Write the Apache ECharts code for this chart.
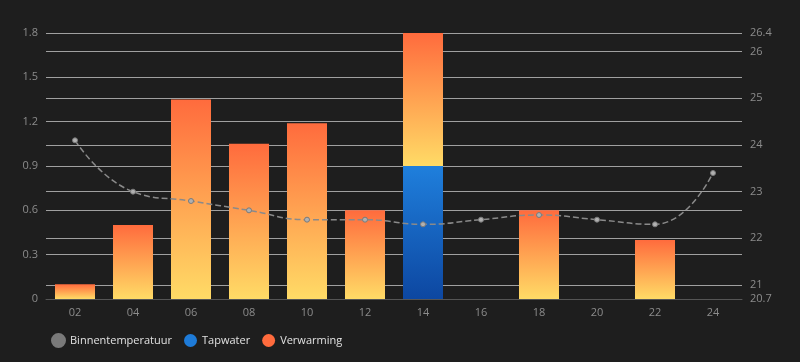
<!DOCTYPE html>
<html>
<head>
<meta charset="utf-8">
<script src="https://cdn.jsdelivr.net/npm/echarts@6/dist/echarts.min.js"></script>
<style>
html,body{margin:0;padding:0;background:#1e1e1e;}
#chart{width:800px;height:362px;}
</style>
</head>
<body>
<div id="chart"></div>
<script>
const categories = ['02','04','06','08','10','12','14','16','18','20','22','24'];
const binnentemperatuur = [24.1, 23.0, 22.8, 22.6, 22.4, 22.4, 22.3, 22.4, 22.5, 22.4, 22.3, 23.4];
const tapwater = [0, 0, 0, 0, 0, 0, 0.9, 0, 0, 0, 0, 0];
const verwarming = [0.1, 0.5, 1.35, 1.05, 1.19, 0.6, 0.9, 0, 0.6, 0, 0.4, 0];
const tempTicks = [20.7, 21, 22, 23, 24, 25, 26, 26.4];

const chart = echarts.init(document.getElementById('chart'));
const grad = (top, bottom) => new echarts.graphic.LinearGradient(0, 0, 0, 1, [
  {offset: 0, color: top}, {offset: 1, color: bottom}
]);
chart.setOption({
  backgroundColor: '#1e1e1e',
  animation: false,
  textStyle: {fontFamily: 'Open Sans, Noto Sans, sans-serif'},
  legend: {
    left: 46, bottom: 9,
    icon: 'circle', itemWidth: 13, itemHeight: 13, itemGap: 12,
    textStyle: {color: '#e1e1e1', fontSize: 11},
    data: [
      {name: 'Binnentemperatuur', itemStyle: {color: '#7a7a7a'}},
      {name: 'Tapwater', itemStyle: {color: '#1e7bd8'}},
      {name: 'Verwarming', itemStyle: {color: '#ff6b3d'}}
    ]
  },
  grid: {left: 46, right: 58, top: 33, bottom: 63},
  xAxis: {
    type: 'category',
    data: categories,
    axisLine: {lineStyle: {color: '#555'}},
    axisTick: {show: false},
    axisLabel: {color: '#8c8c8c', fontSize: 11, margin: 8}
  },
  yAxis: [
    {
      type: 'value', min: 0, max: 1.8, interval: 0.3,
      axisLabel: {color: '#8c8c8c', fontSize: 11},
      splitLine: {lineStyle: {color: '#a0a0a0', width: 1}}
    },
    {
      type: 'value', min: 20.7, max: 26.4,
      axisTick: {show: false, customValues: tempTicks},
      axisLabel: {color: '#8c8c8c', fontSize: 11, customValues: tempTicks},
      splitLine: {lineStyle: {color: '#a0a0a0', width: 1}}
    }
  ],
  series: [
    {
      name: 'Tapwater', type: 'bar', stack: 'e', barWidth: 40,
      data: tapwater,
      itemStyle: {color: grad('#1f7fdc', '#0d47a1')}
    },
    {
      name: 'Verwarming', type: 'bar', stack: 'e', barWidth: 40,
      data: verwarming,
      itemStyle: {color: grad('#ff6b3d', '#ffdb66')}
    },
    {
      name: 'Binnentemperatuur', type: 'line', yAxisIndex: 1, smooth: true,
      data: binnentemperatuur,
      symbol: 'circle', symbolSize: 5,
      lineStyle: {color: '#8a8a8a', width: 1.5, type: 'dashed'},
      itemStyle: {color: '#b0b0b0', borderColor: '#7a7a7a', borderWidth: 1}
    }
  ]
});
</script>
</body>
</html>
